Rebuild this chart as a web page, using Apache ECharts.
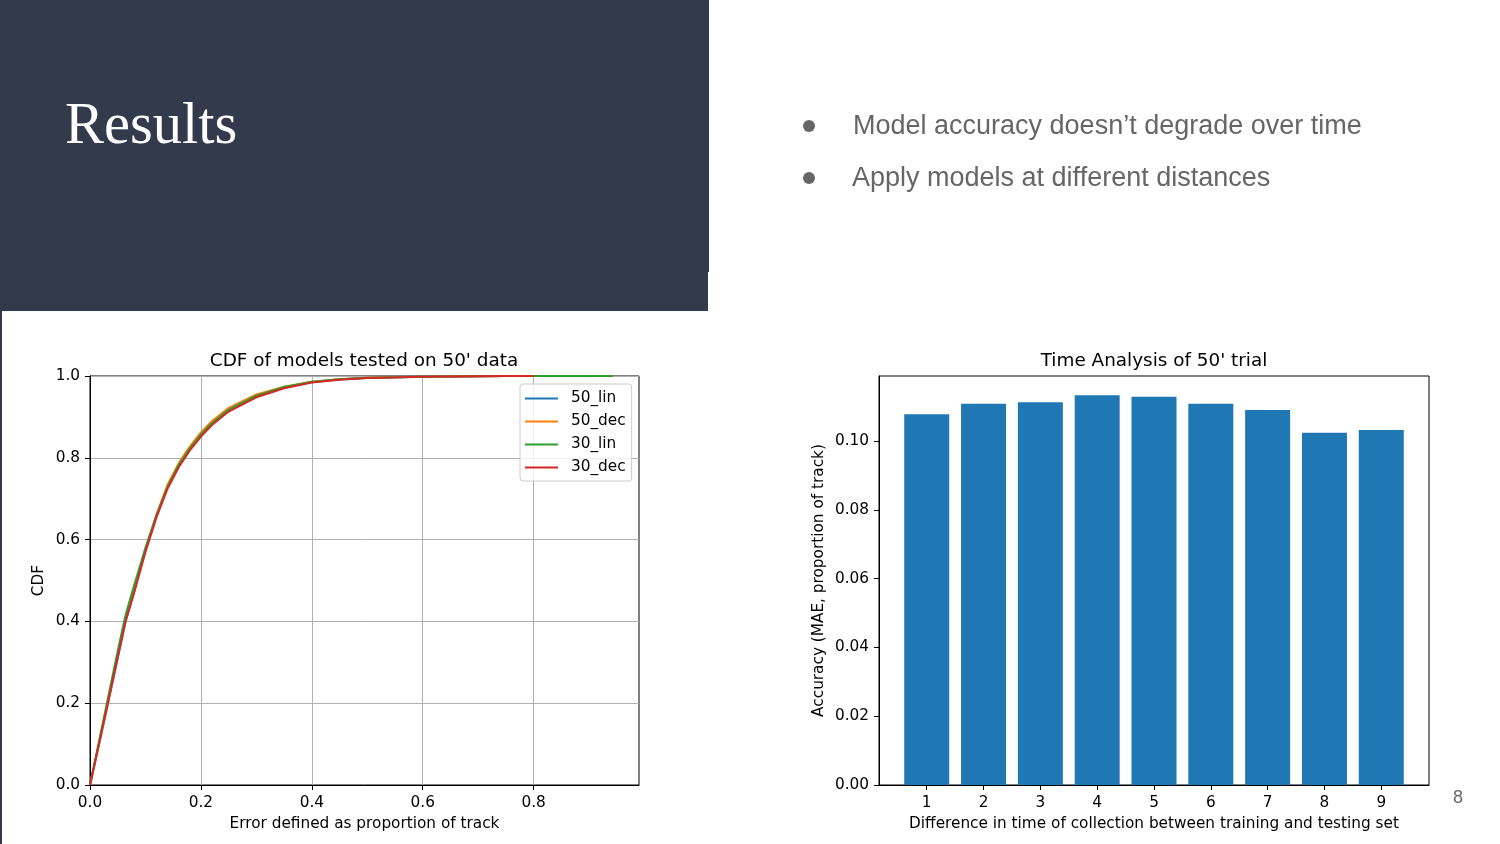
<!DOCTYPE html>
<html>
<head>
<meta charset="utf-8">
<script src="https://cdn.jsdelivr.net/npm/echarts@6/dist/echarts.min.js"></script>
<style>
html,body{margin:0;padding:0;background:#fff;}
#c{width:1500px;height:844px;}
</style>
</head>
<body>
<div id="c"></div>
<script>
// ---- data ----
const cdfX = [0, 0.016, 0.032, 0.048, 0.064, 0.08, 0.1, 0.12, 0.14, 0.16, 0.18, 0.2, 0.22, 0.25, 0.3, 0.35, 0.4, 0.45, 0.5, 0.6, 0.7, 0.75, 0.78, 0.8, 0.943];
const lin50 = [0, 0.097, 0.196, 0.297, 0.398, 0.475, 0.575, 0.66, 0.73, 0.782, 0.822, 0.856, 0.884, 0.917, 0.951, 0.972, 0.985, 0.992, 0.995, 0.998, 0.9995, 1, 1, null, null];
const dec50 = [0, 0.099, 0.2, 0.303, 0.405, 0.48, 0.577, 0.662, 0.735, 0.787, 0.828, 0.862, 0.89, 0.922, 0.955, 0.974, 0.986, 0.992, 0.996, 0.998, 0.9995, 1, null, null, null];
const lin30 = [0, 0.105, 0.21, 0.315, 0.415, 0.49, 0.58, 0.66, 0.73, 0.783, 0.823, 0.857, 0.885, 0.918, 0.952, 0.973, 0.986, 0.992, 0.996, 0.998, 0.9995, 1, 1, 1, 1];
const dec30 = [0, 0.1, 0.2, 0.3, 0.4, 0.472, 0.57, 0.655, 0.725, 0.777, 0.818, 0.852, 0.88, 0.913, 0.948, 0.970, 0.984, 0.991, 0.995, 0.998, 0.9995, 1, 1, 1, null];
const seriesNames = ['50_lin', '50_dec', '30_lin', '30_dec'];
const cdfTicksX = [0, 0.2, 0.4, 0.6, 0.8];
const cdfTicksY = [0, 0.2, 0.4, 0.6, 0.8, 1.0];

const timeDiff = [1, 2, 3, 4, 5, 6, 7, 8, 9];
const mae = [0.1078, 0.1108, 0.1113, 0.1133, 0.1129, 0.1108, 0.1090, 0.1024, 0.1032];
const maeTicks = [0, 0.02, 0.04, 0.06, 0.08, 0.10];

const bullets = ['Model accuracy doesn\u2019t degrade over time', 'Apply models at different distances'];

// ---- chart ----
const FONT = 'DejaVu Sans';
const FS = 15.3;
const colors = ['#1f77b4', '#ff7f0e', '#2ca02c', '#d62728'];
const pair = (ys) => cdfX.map((x, i) => [x, ys[i]]);
const cdfSeries = [lin50, dec50, lin30, dec30].map((ys, i) => ({
  name: seriesNames[i], type: 'line', xAxisIndex: 0, yAxisIndex: 0,
  data: pair(ys).filter(p => p[1] !== null), showSymbol: false, symbol: 'none',
  lineStyle: {width: 2, color: colors[i]}, itemStyle: {color: colors[i]},
  animation: false, z: 3 + i
}));

const axisCommon = {
  axisLine: {show: true, lineStyle: {color: '#000', width: 1}},
  axisTick: {show: true, inside: false, length: 5, lineStyle: {color: '#000', width: 1}},
  axisLabel: {color: '#000', fontFamily: FONT, fontSize: FS},
  nameTextStyle: {color: '#000', fontFamily: FONT, fontSize: FS},
  nameLocation: 'middle'
};

const chart = echarts.init(document.getElementById('c'));
chart.setOption({
  animation: false,
  backgroundColor: '#fff',
  grid: [
    {left: 90, top: 376, width: 549, height: 409, show: true, borderColor: '#000', borderWidth: 1, backgroundColor: '#fff', containLabel: false},
    {left: 879, top: 376, width: 550, height: 409, show: true, borderColor: '#000', borderWidth: 1, backgroundColor: '#fff', containLabel: false}
  ],
  xAxis: [
    Object.assign({}, axisCommon, {
      type: 'value', gridIndex: 0, min: 0, max: 0.99, interval: 0.2,
      name: 'Error defined as proportion of track', nameGap: 32,
      axisLabel: Object.assign({}, axisCommon.axisLabel, {margin: 11, customValues: cdfTicksX, formatter: v => v.toFixed(1)}),
      axisTick: Object.assign({}, axisCommon.axisTick, {customValues: cdfTicksX}),
      splitLine: {show: true, lineStyle: {color: '#b0b0b0', width: 1}}
    }),
    Object.assign({}, axisCommon, {
      type: 'value', gridIndex: 1, min: 0.16, max: 9.84,
      name: 'Difference in time of collection between training and testing set', nameGap: 32,
      axisLabel: Object.assign({}, axisCommon.axisLabel, {margin: 11, customValues: timeDiff, formatter: v => String(v)}),
      axisTick: Object.assign({}, axisCommon.axisTick, {customValues: timeDiff}),
      splitLine: {show: false}
    })
  ],
  yAxis: [
    Object.assign({}, axisCommon, {
      type: 'value', gridIndex: 0, min: 0, max: 1, interval: 0.2,
      name: 'CDF', nameGap: 43,
      axisLabel: Object.assign({}, axisCommon.axisLabel, {margin: 10, customValues: cdfTicksY, formatter: v => v.toFixed(1)}),
      axisTick: Object.assign({}, axisCommon.axisTick, {customValues: cdfTicksY}),
      splitLine: {show: true, lineStyle: {color: '#b0b0b0', width: 1}}
    }),
    Object.assign({}, axisCommon, {
      type: 'value', gridIndex: 1, min: 0, max: 0.1189,
      name: 'Accuracy (MAE, proportion of track)', nameGap: 52,
      axisLabel: Object.assign({}, axisCommon.axisLabel, {margin: 10, customValues: maeTicks, formatter: v => v.toFixed(2)}),
      axisTick: Object.assign({}, axisCommon.axisTick, {customValues: maeTicks}),
      splitLine: {show: false}
    })
  ],
  legend: {
    data: seriesNames, orient: 'vertical', left: 520, top: 384,
    padding: [7, 6, 6, 5], itemGap: 8, itemWidth: 33, itemHeight: 15,
    backgroundColor: 'rgba(255,255,255,0.8)', borderColor: '#cccccc', borderWidth: 1, borderRadius: 3,
    textStyle: {color: '#000', fontFamily: FONT, fontSize: FS, padding: [0, 0, 0, 8]},
    icon: 'path://M0,6 L33,6 L33,8 L0,8 Z',
    selectedMode: false
  },
  series: cdfSeries.concat([{
    name: 'mae', type: 'bar', xAxisIndex: 1, yAxisIndex: 1,
    data: timeDiff.map((d, i) => [d, mae[i]]),
    barWidth: 45, itemStyle: {color: '#1f77b4'}, animation: false
  }]),
  graphic: [
    {type: 'rect', shape: {x: 0, y: 0, width: 709, height: 272}, style: {fill: '#323a4c'}, z: 0},
    {type: 'rect', shape: {x: 0, y: 272, width: 708, height: 39}, style: {fill: '#323a4c'}, z: 0},
    {type: 'rect', shape: {x: 0, y: 311, width: 2, height: 533}, style: {fill: '#323a4c'}, z: 0},
    {type: 'text', x: 65, y: 128, style: {text: 'Results', font: '58.5px "Liberation Serif"', fill: '#ffffff', align: 'left', verticalAlign: 'middle'}, z: 10},
    {type: 'circle', shape: {cx: 809, cy: 126, r: 6}, style: {fill: '#666666'}, z: 10},
    {type: 'circle', shape: {cx: 809, cy: 178, r: 6}, style: {fill: '#666666'}, z: 10},
    {type: 'text', x: 853, y: 127, style: {text: bullets[0], font: '27px "Liberation Sans"', fill: '#666666', align: 'left', verticalAlign: 'middle'}, z: 10},
    {type: 'text', x: 852, y: 179, style: {text: bullets[1], font: '27px "Liberation Sans"', fill: '#666666', align: 'left', verticalAlign: 'middle'}, z: 10},
    {type: 'text', x: 364, y: 361, style: {text: 'CDF of models tested on 50\' data', font: '18.4px "DejaVu Sans"', fill: '#000', align: 'center', verticalAlign: 'middle'}, z: 10},
    {type: 'text', x: 1154, y: 361, style: {text: 'Time Analysis of 50\' trial', font: '18.4px "DejaVu Sans"', fill: '#000', align: 'center', verticalAlign: 'middle'}, z: 10},
    {type: 'text', x: 1458, y: 798, style: {text: '8', font: '18px "Liberation Sans"', fill: '#666666', align: 'center', verticalAlign: 'middle'}, z: 10}
  ]
});
</script>
</body>
</html>
